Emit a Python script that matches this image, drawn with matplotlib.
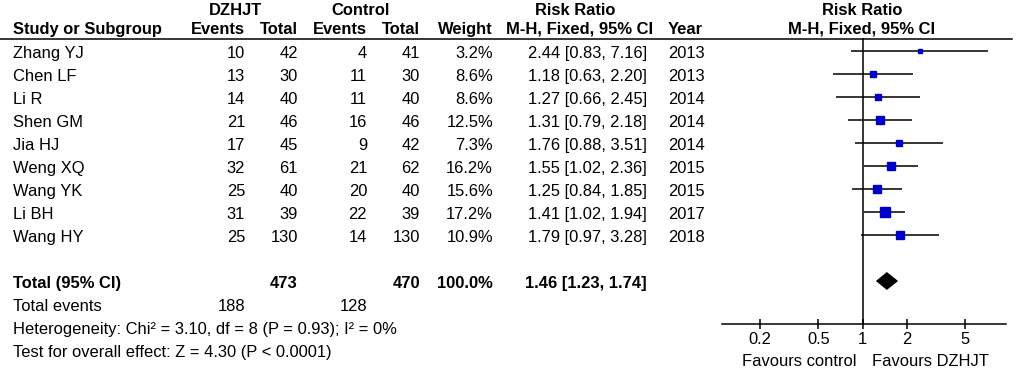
import matplotlib as mpl
import matplotlib.pyplot as plt
import matplotlib.transforms as mtransforms
import numpy as np

mpl.rcParams['font.family'] = ['Liberation Sans', 'DejaVu Sans']

font_size = 11.9
fig_w_px, fig_h_px = 1023, 370

# ---- data ----
studies = ["Zhang YJ", "Chen LF", "Li R", "Shen GM", "Jia HJ",
           "Weng XQ", "Wang YK", "Li BH", "Wang HY"]
dz_events = [10, 13, 14, 21, 17, 32, 25, 31, 25]
dz_total = [42, 30, 40, 46, 45, 61, 40, 39, 130]
ctrl_events = [4, 11, 11, 16, 9, 21, 20, 22, 14]
ctrl_total = [41, 30, 40, 46, 42, 62, 40, 39, 130]
weights = [3.2, 8.6, 8.6, 12.5, 7.3, 16.2, 15.6, 17.2, 10.9]
rr = [2.44, 1.18, 1.27, 1.31, 1.76, 1.55, 1.25, 1.41, 1.79]
rr_lo = [0.83, 0.63, 0.66, 0.79, 0.88, 1.02, 0.84, 1.02, 0.97]
rr_hi = [7.16, 2.20, 2.45, 2.18, 3.51, 2.36, 1.85, 1.94, 3.28]
years = [2013, 2013, 2014, 2014, 2014, 2015, 2015, 2017, 2018]

total_dz, total_ctrl = 473, 470
total_weight = 100.0
pooled = (1.46, 1.23, 1.74)
events_dz, events_ctrl = 188, 128
heterogeneity = "Heterogeneity: Chi\u00b2 = 3.10, df = 8 (P = 0.93); I\u00b2 = 0%"
overall = "Test for overall effect: Z = 4.30 (P < 0.0001)"
xticks = [0.2, 0.5, 1, 2, 5]
xtick_labels = ["0.2", "0.5", "1", "2", "5"]


def fx(px):
    return px / fig_w_px


def fy(py):
    return 1 - py / fig_h_px


fig = plt.figure(figsize=(fig_w_px / 100, fig_h_px / 100), dpi=100)

# Forest plot axes, rows are one unit apart
row0_px, row_px = 51, 23
top_px, bottom_px = 38, 324
ax = fig.add_axes([fx(722), fy(bottom_px), fx(1006) - fx(722), (bottom_px - top_px) / fig_h_px])
ax.set_xscale('log')
ax.set_xlim(10 ** ((722 - 862.7) / 147), 10 ** ((1006 - 862.7) / 147))
ax.set_ylim((bottom_px - row0_px) / row_px, (top_px - row0_px) / row_px)
for side in ['top', 'left', 'right']:
    ax.spines[side].set_visible(False)
ax.spines['bottom'].set_linewidth(1.1)
ax.set_yticks([])
ax.set_xticks(xticks)
ax.set_xticklabels(xtick_labels)
ax.xaxis.set_minor_locator(mpl.ticker.NullLocator())
ax.tick_params(axis='x', direction='inout', length=7, width=1.1, labelsize=font_size, pad=2)
ax.axvline(1, color='black', lw=1.1)
ax.patch.set_visible(False)

rows = np.arange(len(studies))
ax.hlines(rows, rr_lo, rr_hi, color='black', lw=1.1)
for i in rows:
    side = 2.2 * np.sqrt(weights[i]) * 0.72
    ax.plot(rr[i], i, marker='s', ms=side, color='#0000c8', mec='#0000c8', lw=0)

total_row = len(studies) + 1
est, lo, hi = pooled
ax.fill([lo, est, hi, est], [total_row, total_row - 0.39, total_row, total_row + 0.39],
        color='black', lw=0)

# Text columns: x in figure pixels, y in row units (slightly below the marks)
trans = mtransforms.blended_transform_factory(fig.transFigure, ax.transData)
text_shift = 0.1


def put(px, row, s, ha='right', bold=False):
    fig.text(fx(px), row + text_shift, s, transform=trans, ha=ha, va='center',
             fontsize=font_size, fontweight='bold' if bold else 'normal', clip_on=False)


# header
hdr1 = -1.85
hdr2 = -1.05
put(236, hdr1, "DZHJT", ha='center', bold=True)
put(361, hdr1, "Control", ha='center', bold=True)
put(575, hdr1, "Risk Ratio", ha='center', bold=True)
put(862, hdr1, "Risk Ratio", ha='center', bold=True)
put(13, hdr2, "Study or Subgroup", ha='left', bold=True)
put(245, hdr2, "Events", bold=True)
put(298, hdr2, "Total", bold=True)
put(367, hdr2, "Events", bold=True)
put(420, hdr2, "Total", bold=True)
put(493, hdr2, "Weight", bold=True)
put(580, hdr2, "M-H, Fixed, 95% CI", ha='center', bold=True)
put(668, hdr2, "Year", ha='left', bold=True)
put(862, hdr2, "M-H, Fixed, 95% CI", ha='center', bold=True)
fig.add_artist(plt.Line2D([0, fx(1012)], [fy(38.5), fy(38.5)], color='black', lw=1.1))

for i, name in enumerate(studies):
    put(13, i, name, ha='left')
    put(245, i, f"{dz_events[i]}")
    put(298, i, f"{dz_total[i]}")
    put(367, i, f"{ctrl_events[i]}")
    put(420, i, f"{ctrl_total[i]}")
    put(493, i, f"{weights[i]:.1f}%")
    put(647, i, f"{rr[i]:.2f} [{rr_lo[i]:.2f}, {rr_hi[i]:.2f}]")
    put(668, i, f"{years[i]}", ha='left')

put(13, total_row, "Total (95% CI)", ha='left', bold=True)
put(298, total_row, f"{total_dz}", bold=True)
put(420, total_row, f"{total_ctrl}", bold=True)
put(493, total_row, f"{total_weight:.1f}%", bold=True)
put(647, total_row, f"{est:.2f} [{lo:.2f}, {hi:.2f}]", bold=True)

put(13, total_row + 1, "Total events", ha='left')
put(245, total_row + 1, f"{events_dz}")
put(367, total_row + 1, f"{events_ctrl}")
put(13, total_row + 2, heterogeneity, ha='left')
put(13, total_row + 3, overall, ha='left')

fig.text(fx(857), fy(361), "Favours control", ha='right', va='center', fontsize=font_size)
fig.text(fx(872), fy(361), "Favours DZHJT", ha='left', va='center', fontsize=font_size)

plt.savefig("out.png", dpi=100)
